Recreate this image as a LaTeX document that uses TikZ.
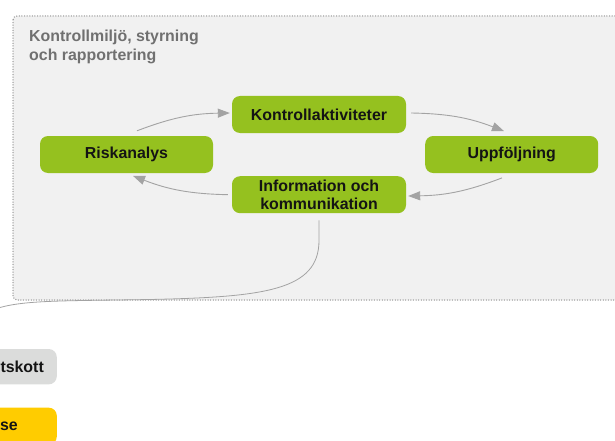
\documentclass[tikz,border=0pt]{standalone}
\usepackage{fontspec}
\setmainfont{Liberation Sans}
\usetikzlibrary{arrows.meta}
\definecolor{leaf}{HTML}{95C11F}
\definecolor{framefill}{HTML}{F1F1F1}
\definecolor{framedot}{HTML}{9C9C9C}
\definecolor{arrowgray}{HTML}{A3A3A3}
\definecolor{titlegray}{HTML}{707070}
\definecolor{boxgray}{HTML}{DBDCDB}
\definecolor{boxyellow}{HTML}{FFCC00}
\begin{document}
\begin{tikzpicture}[x=1pt,y=-1pt,
  boxfont/.style={font=\fontsize{15.9}{17.5}\selectfont\bfseries},
  stepbox/.style={boxfont, fill=leaf, rounded corners=8pt, minimum width=174pt, minimum height=37pt, inner sep=0pt, align=center, text=black!92},
  lowbox/.style={boxfont, rounded corners=8pt, inner ysep=0pt, text=black!92},
  flow/.style={draw=arrowgray, line width=0.9pt, -{Triangle[length=12pt,width=9pt]}, bend left=10},
  link/.style={draw=arrowgray, line width=0.8pt},
  frame/.style={fill=framefill, draw=framedot, line width=1.5pt, dash pattern=on 0pt off 2.6pt, line cap=round, rounded corners=4pt}
]
\useasboundingbox (0,0) rectangle (615,441);
\clip (0,0) rectangle (615,441);
\draw[frame] (13,16) rectangle (660,300);
\node (title) [anchor=north west, inner sep=0pt, align=left, text=titlegray, font=\fontsize{15.9}{18.5}\selectfont\bfseries] at (29,30) {Kontrollmiljö, styrning\\och rapportering};

\node (kontroll) [stepbox] at (319,114.5) {Kontrollaktiviteter};
\node (risk) [stepbox, minimum width=173pt] at (126.5,154.5) {Riskanalys};
\node (uppf) [stepbox, minimum width=173pt] at (511.7,154.5) {Uppföljning};
\node (info) [stepbox] at (319,194.7) {Information och\\kommunikation};

\draw[flow] ([xshift=10.5pt,yshift=5pt]risk.north) to ([xshift=-2pt,yshift=1.5pt]kontroll.west);
\draw[flow] ([xshift=5pt,yshift=1.5pt]kontroll.east) to ([xshift=-7.7pt,yshift=4.7pt]uppf.north);
\draw[flow] ([xshift=-9.7pt,yshift=-4.7pt]uppf.south) to ([xshift=2pt,yshift=-1.3pt]info.east);
\draw[flow] ([xshift=-4pt]info.west) to ([xshift=6.5pt,yshift=-2.7pt]risk.south);

\coordinate (offleft) at (-5,309);
\draw[link] ([yshift=-7pt]info.south) -- ++(0,20) .. controls +(0,50) and (265,297) .. (150,299.5) .. controls (60,301) and (22,300) .. (offleft);

\node (utskott) [lowbox, fill=boxgray, anchor=east, inner xsep=13pt, minimum height=35.3pt] at (57,366.7) {tskott};
\node (styrelse) [lowbox, fill=boxyellow, anchor=east, inner xsep=39pt, minimum height=37pt] at (57,426.2) {se};
\end{tikzpicture}
\end{document}
